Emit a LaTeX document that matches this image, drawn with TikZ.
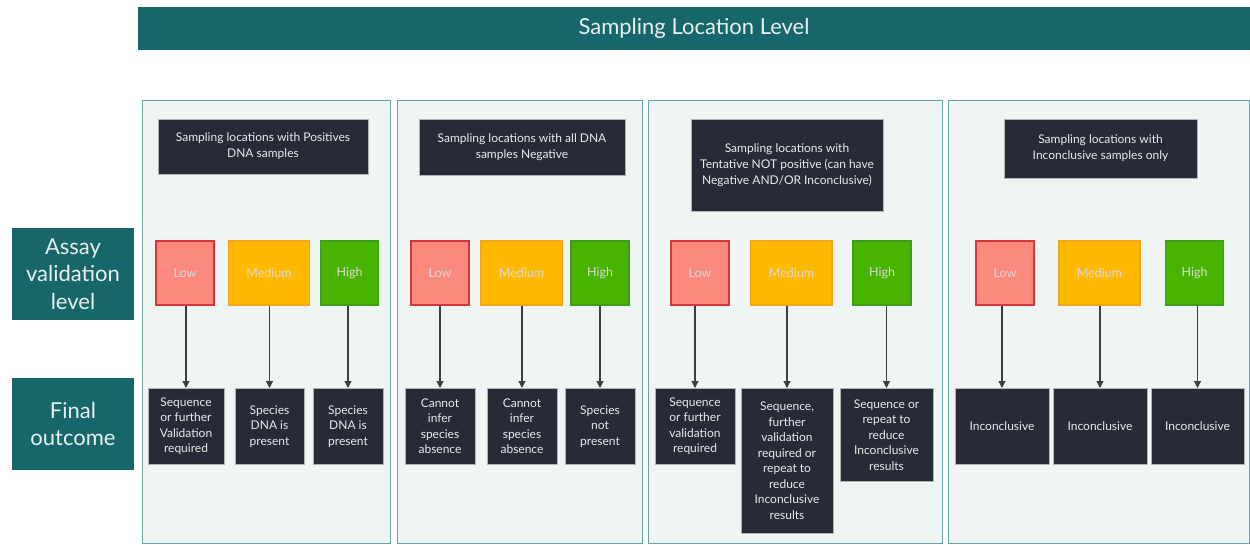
\documentclass[tikz,border=0pt]{standalone}
\usepackage{fontspec}
\setmainfont{Lato}
\usetikzlibrary{positioning,calc,arrows.meta}

\definecolor{tealband}{HTML}{17676A}
\definecolor{panelbg}{HTML}{EFF5F3}
\definecolor{panelline}{HTML}{6AA3A3}
\definecolor{darkbox}{HTML}{262B37}
\definecolor{lowfill}{HTML}{FA8A7D}
\definecolor{lowline}{HTML}{D8353A}
\definecolor{medfill}{HTML}{FFBA00}
\definecolor{medline}{HTML}{F7A51D}
\definecolor{highfill}{HTML}{48B400}
\definecolor{highline}{HTML}{3D9E1B}
\definecolor{arrowgray}{HTML}{3A3F47}

\tikzset{
  band/.style={fill=tealband, text=white!90!tealband, inner sep=0pt, align=center},
  panel/.style={fill=panelbg, draw=panelline, line width=1.2pt, anchor=north west},
  headbox/.style={fill=darkbox, draw=gray!60, line width=0.4pt, text=white!90!darkbox,
    align=center, inner sep=0pt, font=\fontsize{12}{16}\selectfont},
  lvlbox/.style={minimum height=64, inner sep=0pt, line width=1.2pt, text=white!85!black,
    font=\fontsize{12.5}{15}\selectfont},
  lowbox/.style={lvlbox, fill=lowfill, draw=lowline, minimum width=58},
  medbox/.style={lvlbox, fill=medfill, draw=medline, minimum width=81},
  highbox/.style={lvlbox, fill=highfill, draw=highline, minimum width=58},
  outbox/.style={fill=darkbox, draw=gray!60, line width=0.4pt, text=white!90!darkbox,
    align=center, inner sep=0pt, anchor=north, font=\fontsize{12}{15.5}\selectfont},
  arr/.style={draw=arrowgray, line width=1.1pt, -{Triangle[length=7pt,width=7pt]}}
}

\begin{document}
\begin{tikzpicture}[x=1pt,y=-1pt]
  \useasboundingbox (0,0) rectangle (1250,544);
  % title band and row labels
  \node[band, minimum width=1112, minimum height=43, font=\fontsize{22}{26}\selectfont]
    (title) at (694,28.5) {Sampling Location Level};
  \node[band, minimum width=122, minimum height=92, font=\fontsize{22}{27.5}\selectfont]
    (assay) at (73,274) {Assay\\validation\\level};
  \node[band, minimum width=122, minimum height=92, font=\fontsize{22}{27.5}\selectfont]
    (final) at (73,424) {Final\\outcome};
  %
  % panels
  \node[panel, minimum width=248, minimum height=443] (panelA) at (142,100) {};
  \node[panel, minimum width=245, minimum height=443] (panelB) at (397,100) {};
  \node[panel, minimum width=294, minimum height=443] (panelC) at (648,100) {};
  \node[panel, minimum width=301, minimum height=443] (panelD) at (948,100) {};
  %
  % panel headers
  \node[headbox, minimum width=210, minimum height=55] (head1) at (263,146.5)
    {Sampling locations with Positives\\DNA samples};
  \node[headbox, minimum width=206, minimum height=56] (head2) at (522,147)
    {Sampling locations with all DNA\\samples Negative};
  \node[headbox, minimum width=192, minimum height=92] (head3) at (787,165)
    {Sampling locations with\\Tentative NOT positive (can have\\Negative AND/OR Inconclusive)};
  \node[headbox, minimum width=193, minimum height=59] (head4) at (1100.5,148.5)
    {Sampling locations with\\Inconclusive samples only};
  %
  % validation levels
  \node[lowbox]  (l11) at (185,273) {Low};
  \node[medbox]  (l12) at (269,273) {Medium};
  \node[highbox] (l13) at (349.5,273) {High};
  \node[lowbox]  (l21) at (440,273) {Low};
  \node[medbox]  (l22) at (521.5,273) {Medium};
  \node[highbox] (l23) at (600,273) {High};
  \node[lowbox]  (l31) at (700,273) {Low};
  \node[medbox]  (l32) at (791.5,273) {Medium};
  \node[highbox] (l33) at (882,273) {High};
  \node[lowbox]  (l41) at (1005,273) {Low};
  \node[medbox]  (l42) at (1099.5,273) {Medium};
  \node[highbox] (l43) at (1194.5,273) {High};
  %
  % outcomes
  \node[outbox, minimum width=76, minimum height=76] (o11) at (186,388)
    {Sequence\\or further\\Validation\\required};
  \node[outbox, minimum width=69, minimum height=76] (o12) at (269.5,388)
    {Species\\DNA is\\present};
  \node[outbox, minimum width=70, minimum height=76] (o13) at (348,388)
    {Species\\DNA is\\present};
  \node[outbox, minimum width=70, minimum height=76] (o21) at (440,388)
    {Cannot\\infer\\species\\absence};
  \node[outbox, minimum width=70, minimum height=76] (o22) at (522,388)
    {Cannot\\infer\\species\\absence};
  \node[outbox, minimum width=70, minimum height=76] (o23) at (600,388)
    {Species\\not\\present};
  \node[outbox, minimum width=80, minimum height=76] (o31) at (695,388)
    {Sequence\\or further\\validation\\required};
  \node[outbox, minimum width=92, minimum height=145] (o32) at (787,388)
    {Sequence,\\further\\validation\\required or\\repeat to\\reduce\\Inconclusive\\results};
  \node[outbox, minimum width=93, minimum height=93] (o33) at (886.5,388)
    {Sequence or\\repeat to\\reduce\\Inconclusive\\results};
  \node[outbox, minimum width=94, minimum height=76] (o41) at (1002,388) {Inconclusive};
  \node[outbox, minimum width=94, minimum height=76] (o42) at (1100,388) {Inconclusive};
  \node[outbox, minimum width=93, minimum height=76] (o43) at (1197.5,388) {Inconclusive};
  %
  \foreach \p in {1,...,4}
    \foreach \k in {1,2,3}
      \draw[arr] (o\p\k.north |- l\p\k.south) -- (o\p\k.north);
\end{tikzpicture}
\end{document}
